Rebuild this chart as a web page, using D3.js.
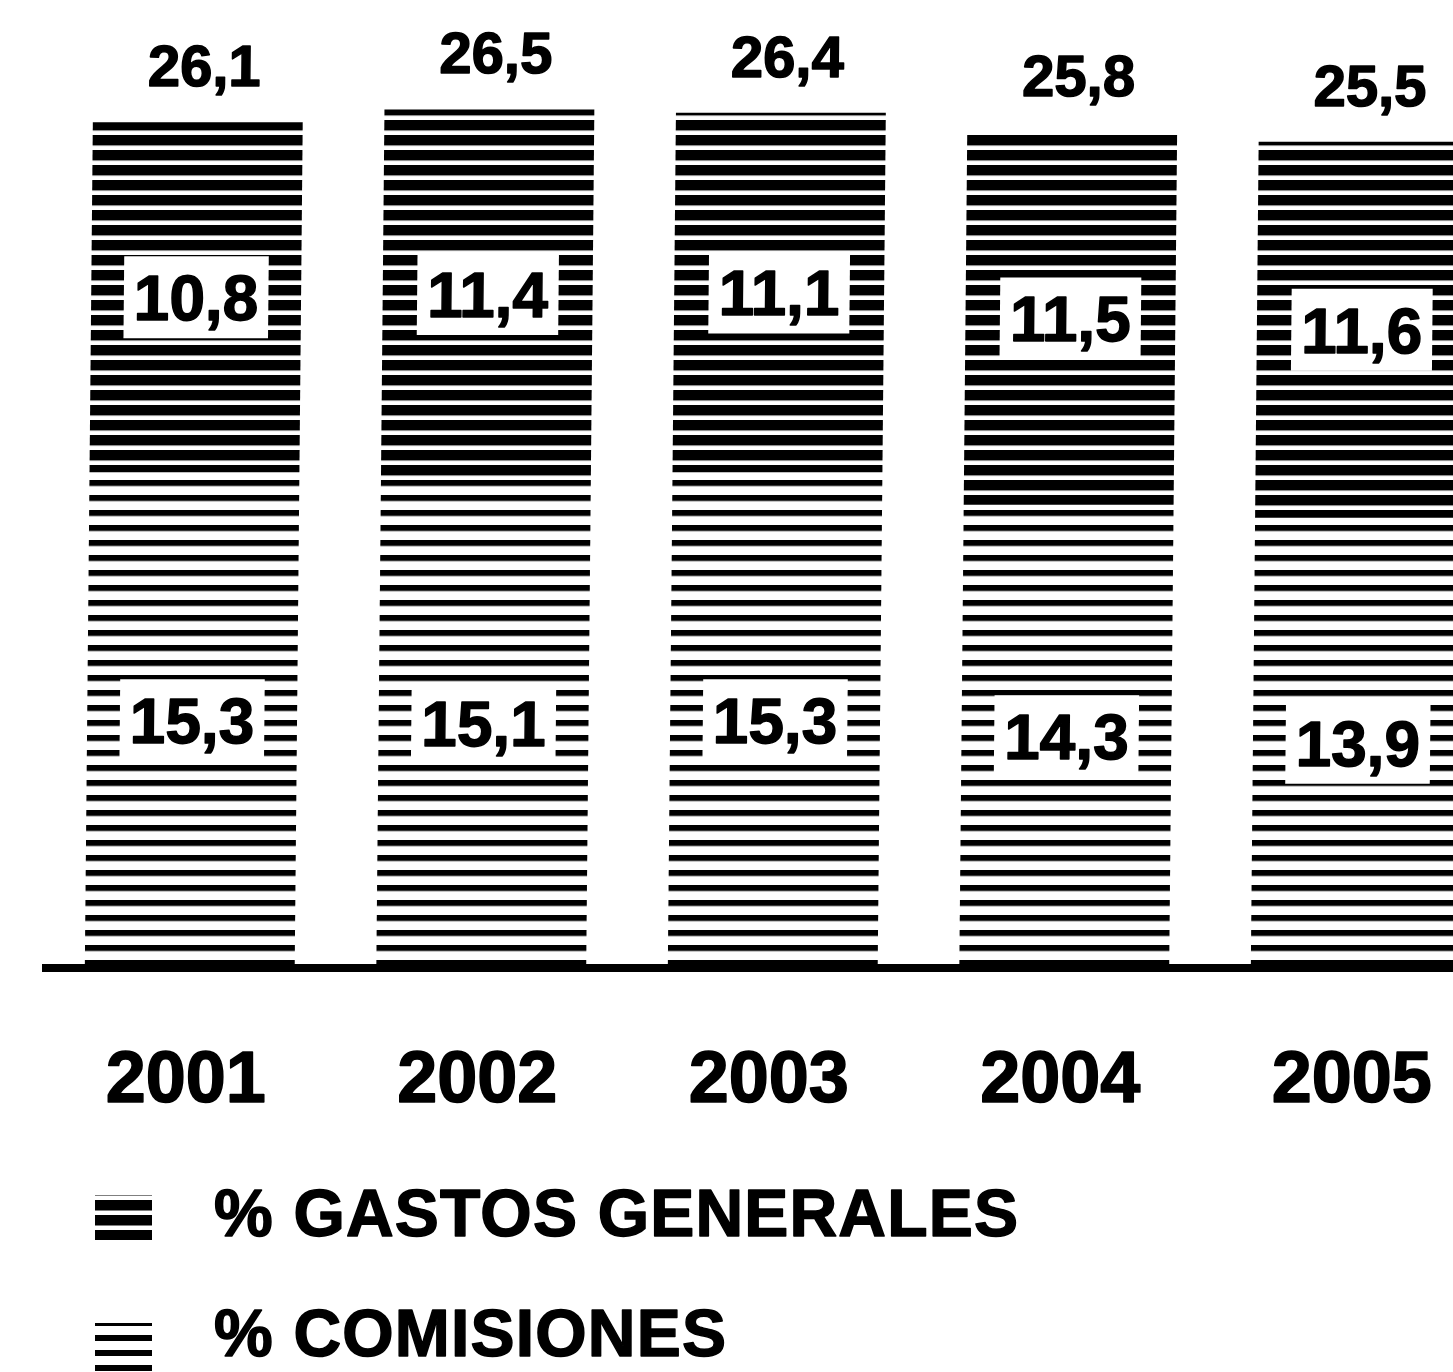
<!DOCTYPE html>
<html>
<head>
<meta charset="utf-8">
<script src="https://cdn.jsdelivr.net/npm/d3@7"></script>
<style>
  html, body { margin: 0; padding: 0; background: #fff; }
  svg { display: block; }
  text { font-family: "Liberation Sans", Arial, sans-serif; font-weight: bold; fill: #000; }
</style>
</head>
<body>
<div id="chart"></div>
<script>
// Cost ratios per year (percent)
const years = ["2001", "2002", "2003", "2004", "2005"];
const comisiones = [15.3, 15.1, 15.3, 14.3, 13.9];
const gastosGenerales = [10.8, 11.4, 11.1, 11.5, 11.6];
const totals = [26.1, 26.5, 26.4, 25.8, 25.5];
const seriesKeys = ["comisiones", "gastos"];
const legendLabels = ["% GASTOS GENERALES", "% COMISIONES"];

const W = 1453, H = 1372;
const baseY = 968;

const rows = years.map((y, i) => ({
  year: y, comisiones: comisiones[i], gastos: gastosGenerales[i], total: totals[i]
}));

const svg = d3.select("#chart").append("svg")
  .attr("width", W).attr("height", H)
  .attr("viewBox", `0 0 ${W} ${H}`);

// Stripe fills: dense for overhead costs, open for commissions
const defs = svg.append("defs");
function stripePattern(id, period, ink) {
  const p = defs.append("pattern")
    .attr("id", id)
    .attr("patternUnits", "userSpaceOnUse")
    .attr("width", 40).attr("height", period);
  p.append("rect").attr("width", 40).attr("height", period).attr("fill", "#fff");
  p.append("rect").attr("y", 0).attr("width", 40).attr("height", ink).attr("fill", "#000");
}
stripePattern("pat-gastos", 15, 10.5);
stripePattern("pat-comisiones", 15, 6);
const fills = { gastos: "url(#pat-gastos)", comisiones: "url(#pat-comisiones)" };

const x = d3.scaleBand()
  .domain(years)
  .range([44, 44 + 5 * 291.5])
  .paddingInner(0.28)
  .paddingOuter(0.14);

const y = d3.scaleLinear()
  .domain([0, 30])
  .range([baseY, baseY - 30 * 32.4]);

const comma = d3.formatLocale({ decimal: ",", thousands: ".", grouping: [3], currency: ["", ""] }).format(".1f");

const stack = d3.stack().keys(seriesKeys);
const layers = stack(rows);

// Bars lean slightly to the right as they rise
const lean = 0.0095;
const g = svg.append("g")
  .attr("transform", `translate(${lean * baseY},0) skewX(${-Math.atan(lean) * 180 / Math.PI})`);

g.selectAll("g.layer")
  .data(layers)
  .join("g")
  .attr("class", "layer")
  .attr("fill", d => fills[d.key])
  .selectAll("rect")
  .data(d => d)
  .join("rect")
  .attr("x", d => x(d.data.year))
  .attr("width", x.bandwidth())
  .attr("y", d => y(d[1]))
  .attr("height", d => y(d[0]) - y(d[1]));

// Value labels inside segments, on white boxes
const segFont = 64;
layers.forEach(layer => {
  layer.forEach(d => {
    const cx = x(d.data.year) + x.bandwidth() / 2;
    const cy = (y(d[0]) + y(d[1])) / 2;
    const label = comma(d.data[layer.key]);
    const t = g.append("text")
      .attr("x", cx)
      .attr("y", cy + segFont * 0.36)
      .attr("text-anchor", "middle")
      .attr("font-size", segFont)
      .attr("stroke", "#000").attr("stroke-width", 1.5).attr("stroke-linejoin", "round")
      .text(label);
    const bb = t.node().getBBox();
    g.insert("rect", () => t.node())
      .attr("x", bb.x - 10)
      .attr("y", cy - 41)
      .attr("width", bb.width + 20)
      .attr("height", 82)
      .attr("fill", "#fff");
  });
});

// Totals above each bar
g.selectAll("text.total")
  .data(rows)
  .join("text")
  .attr("class", "total")
  .attr("x", d => x(d.year) + x.bandwidth() / 2 + 6)
  .attr("y", d => y(d.total) - 36)
  .attr("text-anchor", "middle")
  .attr("font-size", 58)
  .attr("stroke", "#000").attr("stroke-width", 1.5).attr("stroke-linejoin", "round")
  .text(d => comma(d.total));

// Baseline
svg.append("line")
  .attr("x1", 42).attr("x2", W)
  .attr("y1", baseY).attr("y2", baseY)
  .attr("stroke", "#000").attr("stroke-width", 8);

// Year axis labels
const xAxis = d3.axisBottom(x).tickSize(0).tickPadding(0);
const axisG = svg.append("g")
  .attr("transform", `translate(-4,${1102})`)
  .call(xAxis);
axisG.select(".domain").remove();
axisG.selectAll("text")
  .attr("dy", 0)
  .attr("font-size", 72)
  .attr("font-family", null)
  .attr("fill", "#000")
  .attr("stroke", "#000").attr("stroke-width", 1.5).attr("stroke-linejoin", "round");

// Legend
const legend = svg.append("g");
const legendItems = [
  { label: legendLabels[0], fill: fills.gastos, sy: 1195, sh: 45, ty: 1236 },
  { label: legendLabels[1], fill: fills.comisiones, sy: 1323, sh: 49, ty: 1356 }
];
legendItems.forEach(it => {
  legend.append("rect")
    .attr("x", 95).attr("y", it.sy)
    .attr("width", 57).attr("height", it.sh)
    .attr("fill", it.fill);
  legend.append("text")
    .attr("x", 214).attr("y", it.ty)
    .attr("font-size", 66)
    .attr("letter-spacing", 1.2)
    .attr("stroke", "#000").attr("stroke-width", 1.5).attr("stroke-linejoin", "round")
    .text(it.label);
});
</script>
</body>
</html>
